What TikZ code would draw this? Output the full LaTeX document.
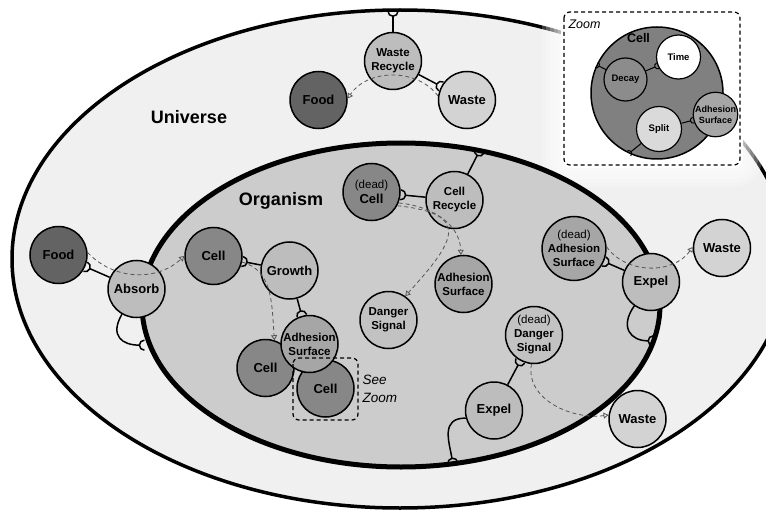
\documentclass[tikz,border=0pt]{standalone}
\usepackage{fontspec}
\setmainfont{Liberation Sans}
\usetikzlibrary{shapes.geometric, arrows.meta}
\definecolor{univfill}{HTML}{F0F0F0}
\definecolor{orgfill}{HTML}{CCCCCC}
\definecolor{foodfill}{HTML}{636363}
\definecolor{cellfill}{HTML}{878787}
\definecolor{procfill}{HTML}{BDBDBD}
\definecolor{adhfill}{HTML}{A6A6A6}
\definecolor{dngrfill}{HTML}{C2C2C2}
\definecolor{wastefill}{HTML}{D3D3D3}
\definecolor{zcellfill}{HTML}{808080}
\definecolor{decayfill}{HTML}{8C8C8C}
\definecolor{splitfill}{HTML}{DADADA}
\definecolor{flowgray}{HTML}{555555}
\newcommand{\deadtag}{{\mdseries\fontsize{11.5}{14}\selectfont(dead)}}
% half circle that cups the target node
\pgfdeclarearrow{
  name = Socket,
  defaults = {length = 4.5pt},
  setup code = {
    \pgfarrowssettipend{\pgfarrowlength}
    \pgfarrowssetlineend{0pt}
    \pgfarrowssetvisualbackend{0pt}
    \pgfarrowssetbackend{0pt}
    \pgfarrowshullpoint{\pgfarrowlength}{\pgfarrowlength}
    \pgfarrowshullpoint{\pgfarrowlength}{-\pgfarrowlength}
    \pgfarrowshullpoint{0pt}{0pt}
    \pgfarrowssavethe\pgfarrowlength
  },
  parameters = {\the\pgfarrowlength},
  drawing code = {
    \pgfpathmoveto{\pgfqpoint{\pgfarrowlength}{\pgfarrowlength}}
    \pgfpatharc{90}{270}{\pgfarrowlength}
    \pgfusepathqstroke
  },
}
\tikzset{
  region/.style  ={ellipse, draw=black, inner sep=0pt},
  biglabel/.style={font=\bfseries\fontsize{18}{20}\selectfont},
  blob/.style    ={circle, draw=black, line width=1.5pt, minimum size=57pt, inner sep=0pt,
                   align=center, font=\bfseries\fontsize{13}{15}\selectfont},
  twoline/.style ={font=\bfseries\fontsize{11.5}{14}\selectfont},
  food/.style    ={blob, fill=foodfill},
  cellb/.style   ={blob, fill=cellfill},
  proc/.style    ={blob, fill=procfill},
  adh/.style     ={blob, twoline, fill=adhfill},
  dngr/.style    ={blob, twoline, fill=dngrfill},
  waste/.style   ={blob, fill=wastefill},
  small/.style   ={circle, draw=black, line width=1.2pt, inner sep=0pt, align=center,
                   font=\bfseries\fontsize{9.5}{11}\selectfont},
  sock/.style    ={line width=1.5pt, -{Socket[length=5pt]}},
  wallsock/.style={sock, shorten >=3pt},
  zsock/.style   ={line width=1pt, -{Socket[length=3pt]}},
  flow/.style    ={draw=flowgray, line width=0.8pt, dash pattern=on 4pt off 3pt,
                   -{Triangle[open, length=5pt, width=6pt]}},
  frame/.style   ={draw=black, line width=1.2pt, dash pattern=on 4pt off 3pt, rounded corners=6pt},
}
\begin{document}
\begin{tikzpicture}[x=1pt, y=1pt]
  \path[use as bounding box, fill=white] (0,0) rectangle (766,-516);

  % universe, glow round the zoom box, organism
  \node[region, fill=univfill, line width=3.5pt, minimum width=776pt, minimum height=498pt] (univ) at (400,-259) {};
  \draw[white, line width=6pt, line join=round, rounded corners=6pt] (564,-12) rectangle (740,-165);
  \foreach \w in {12,20,28,36,44}
    \draw[white, opacity=0.22, line width=\w pt, line join=round, rounded corners=6pt] (564,-12) rectangle (740,-165);
  \node[region, fill=orgfill, line width=5pt, minimum width=518pt, minimum height=324pt] (org) at (401,-305) {};
  \node[biglabel] (univlbl) at (189,-117) {Universe};
  \node[biglabel] (orglbl) at (281,-201) {Organism};

  % universe level
  \node[proc, twoline] (wr) at (393,-61) {Waste\\Recycle};
  \node[food] (foodT) at (318.5,-100) {Food};
  \node[waste] (wasteT) at (467,-100) {Waste};
  \node[food] (foodL) at (58.5,-255) {Food};
  \node[proc] (absorb) at (136.5,-289) {Absorb};
  \node[waste] (wasteR) at (722,-248) {Waste};
  \node[waste] (wasteB) at (637.5,-419) {Waste};

  % organism level
  \node[cellb] (cellA) at (213.5,-256) {Cell};
  \node[proc] (growth) at (289.5,-270.5) {Growth};
  \node[cellb] (cellB) at (265.5,-368) {Cell};
  \node[cellb] (cellC) at (325.5,-388.5) {Cell};
  \node[adh] (adhB) at (309.5,-344) {Adhesion\\Surface};
  \node[cellb] (deadcell) at (371.5,-192) {\deadtag\\Cell};
  \node[proc, twoline] (crec) at (454.5,-200) {Cell\\Recycle};
  \node[adh] (adhC) at (463.5,-284) {Adhesion\\Surface};
  \node[dngr] (danger) at (388.5,-320) {Danger\\Signal};
  \node[adh] (deadadh) at (574,-248.5) {\deadtag\\Adhesion\\Surface};
  \node[proc] (expelR) at (651,-282) {Expel};
  \node[dngr] (deaddanger) at (534,-335) {\deadtag\\Danger\\Signal};
  \node[proc] (expelB) at (494,-410.5) {Expel};
  \draw[frame] (293,-358) rectangle (358,-420);
  \node[anchor=west, align=left, font=\itshape\fontsize{13.5}{18}\selectfont] (seezoom) at (359,-389) {See\\Zoom};

  % zoom box
  \draw[frame, fill=white] (564,-12) rectangle (740,-165);
  \node[anchor=west, font=\itshape\fontsize{12.5}{14}\selectfont] (zoomlbl) at (565,-24) {Zoom};
  \node[circle, draw=black, line width=1.5pt, fill=zcellfill, minimum size=132pt, inner sep=0pt] (zcell) at (657,-93) {};
  \node[font=\bfseries\fontsize{12.5}{14}\selectfont] (zcelltxt) at (638.5,-38) {Cell};
  \node[small, fill=white, minimum size=44pt] (time) at (678.5,-57) {Time};
  \node[small, fill=decayfill, minimum size=43pt] (decay) at (625.5,-79.5) {Decay};
  \node[small, fill=splitfill, minimum size=45pt] (split) at (659,-129) {Split};
  \node[small, fill=adhfill, minimum size=44pt, font=\bfseries\fontsize{9}{11}\selectfont] (zadh) at (715.5,-114.5) {Adhesion\\Surface};

  % links
  \draw[wallsock] (wr) -- (wr.north |- univ.north);
  \draw[sock] (wr) -- (wasteT);
  \draw[sock] (absorb) -- (foodL);
  \draw[wallsock] (absorb.240) to[out=240, in=180, looseness=1.6] (org.189);
  \draw[sock] (growth) -- (cellA);
  \draw[sock] (growth) -- (adhB);
  \draw[sock] (crec) -- (deadcell);
  \draw[wallsock] (crec) -- (org.63);
  \draw[sock] (expelR) -- (deadadh);
  \draw[wallsock] (expelR.235) to[out=235, in=180, looseness=1.6] (org.-8);
  \draw[sock] (expelB) -- (deaddanger);
  \draw[wallsock] (expelB.195) to[out=180, in=100, looseness=1.3] (org.-72);
  \draw[zsock] (decay) -- (time);
  \draw[zsock] (decay) -- (zcell.155);
  \draw[zsock] (split) -- (zadh);
  \draw[zsock] (split) -- (zcell.-115);

  % flows
  \draw[flow] (wasteT.172) to[bend right=55] (foodT.3);
  \draw[flow] (foodL.5) to[bend right=45] (cellA.180);
  \draw[flow] (cellA.-12) to[out=-15, in=95] (cellB.72);
  \draw[flow] (deadcell.-22) to[out=-5, in=92] (adhC.95);
  \draw[flow] (deadcell.-28) .. controls +(75,-8) and +(50,55) .. (danger.55);
  \draw[flow] (deadadh.3) to[bend right=55] (wasteR.178);
  \draw[flow] (deaddanger.-95) to[out=-100, in=188] (wasteB.172);
\end{tikzpicture}
\end{document}
